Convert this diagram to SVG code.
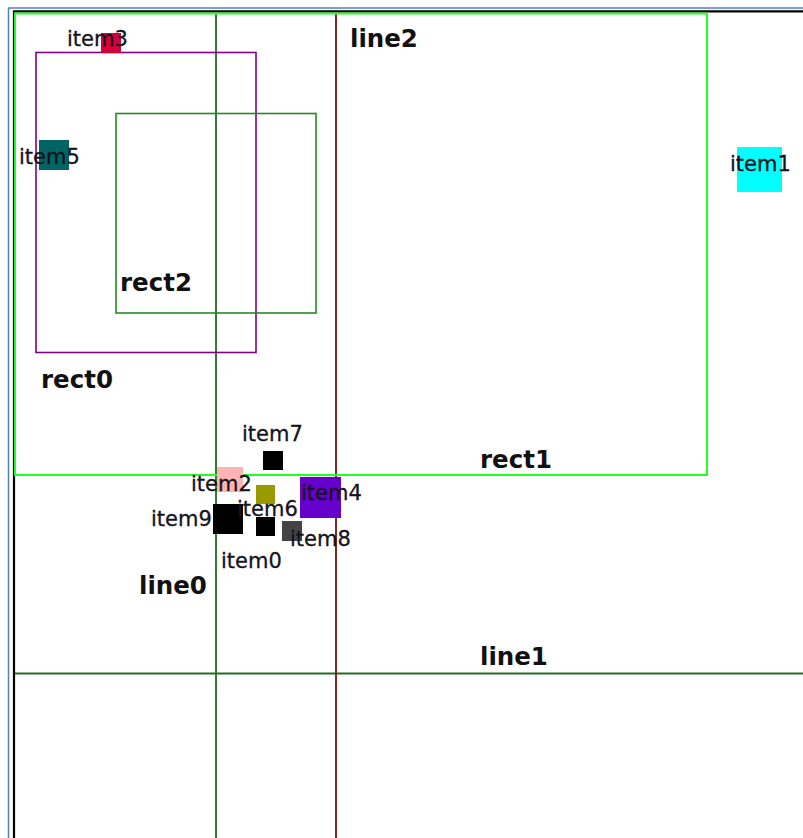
<svg xmlns="http://www.w3.org/2000/svg" width="803" height="838" viewBox="0 0 803 838">
<style>
.lbl{font-family:"DejaVu Sans","Verdana",sans-serif;font-size:24.5px;font-weight:bold;fill:#111}
.itm{font-family:"DejaVu Sans","Verdana",sans-serif;font-size:21px;fill:#141420;stroke:#141420;stroke-width:0.3}
.ln{fill:none;stroke-width:1.8}
</style>
<rect x="0" y="0" width="803" height="838" fill="#ffffff"/>
<g id="frame">
<line x1="8.5" y1="8" x2="8.5" y2="838" stroke="#4f81bd" stroke-width="1.5"/>
<line x1="8" y1="8" x2="803" y2="8" stroke="#4f81bd" stroke-width="1.5"/>
<line x1="14" y1="11" x2="14" y2="838" stroke="#000" stroke-width="2.2"/>
<line x1="13" y1="11.3" x2="803" y2="11.3" stroke="#000" stroke-width="2.2"/>
</g>
<g id="connectors">
<g id="line0"><line class="ln" x1="216" y1="13" x2="216" y2="838" stroke="#1e6e1e"/></g>
<g id="line1"><line class="ln" x1="15" y1="673.5" x2="803" y2="673.5" stroke="#1e6e1e"/></g>
<g id="line2"><line class="ln" x1="336" y1="13" x2="336" y2="838" stroke="#7a1010"/></g>
</g>
<g id="rect1"><rect x="15" y="13.5" width="692" height="461.5" fill="none" stroke="#22ff22" stroke-width="2"/></g>
<g id="rect0"><rect x="36" y="52.5" width="220" height="300" fill="none" stroke="#800080" stroke-width="1.6"/></g>
<g id="rect2"><rect x="116" y="113.5" width="200" height="199.5" fill="none" stroke="#228b22" stroke-width="1.6"/></g>
<g id="item3"><rect x="101" y="33" width="20" height="20" fill="#d4003c"/></g>
<g id="item5"><rect x="39" y="140" width="30" height="30" fill="#006464"/></g>
<g id="item1"><rect x="737" y="147" width="45" height="45" fill="#00ffff"/></g>
<g id="item7"><rect x="263" y="451" width="20" height="19" fill="#000"/></g>
<g id="item2"><rect x="217" y="467" width="26" height="25" fill="#ffb4b4"/></g>
<g id="item6"><rect x="256" y="485" width="19" height="19" fill="#999900"/></g>
<g id="item4"><rect x="300" y="477" width="41" height="41" fill="#6600cc"/></g>
<g id="item9"><rect x="213" y="504" width="30" height="30" fill="#000"/></g>
<g id="item0"><rect x="256" y="517" width="19" height="19" fill="#000"/></g>
<g id="item8"><rect x="282" y="521" width="20" height="20" fill="#444444"/></g>
<g id="labels">
<text class="lbl" x="350" y="47">line2</text>
<text class="lbl" x="120" y="291">rect2</text>
<text class="lbl" x="41" y="388">rect0</text>
<text class="lbl" x="480" y="468">rect1</text>
<text class="lbl" x="139" y="594">line0</text>
<text class="lbl" x="480" y="665">line1</text>
<text class="itm" x="67" y="46">item3</text>
<text class="itm" x="19" y="164">item5</text>
<text class="itm" x="730" y="171">item1</text>
<text class="itm" x="242" y="441">item7</text>
<text class="itm" x="191" y="491">item2</text>
<text class="itm" x="237" y="516">item6</text>
<text class="itm" x="301" y="500">item4</text>
<text class="itm" x="151" y="526">item9</text>
<text class="itm" x="221" y="568">item0</text>
<text class="itm" x="290" y="546">item8</text>
</g>
</svg>
